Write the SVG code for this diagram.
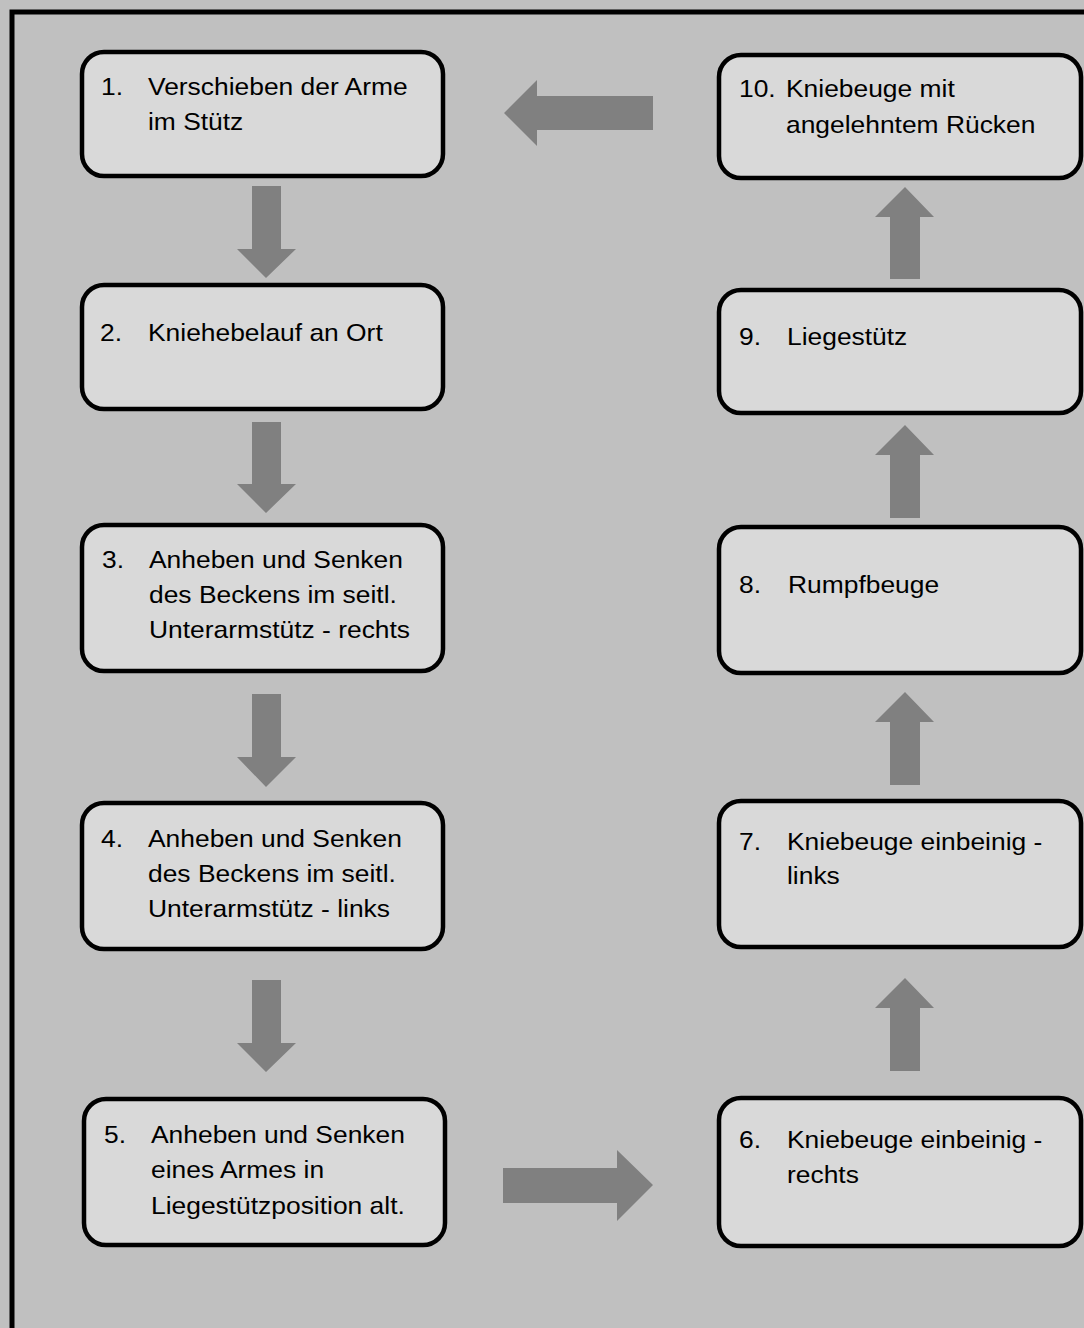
<svg xmlns="http://www.w3.org/2000/svg" width="1084" height="1328" viewBox="0 0 1084 1328">
<style>
.box{fill:#d9d9d9;stroke:#000;stroke-width:4.5}
.arr{fill:#808080}
text{font-family:"Liberation Sans",Arial,sans-serif;font-size:24px;fill:#000}
</style>
<rect x="0" y="0" width="1084" height="1328" fill="#c0c0c0"/>
<rect x="12" y="12" width="1100" height="1400" fill="#c0c0c0" stroke="#000" stroke-width="5"/>
<g id="connectors">
<polygon class="arr" points="252,186 281,186 281,249 296,249 266,278 237,249 252,249"/>
<polygon class="arr" points="252,422 281,422 281,484 296,484 266,513 237,484 252,484"/>
<polygon class="arr" points="252,694 281,694 281,757 296,757 266,787 237,757 252,757"/>
<polygon class="arr" points="252,980 281,980 281,1043 296,1043 266,1072 237,1043 252,1043"/>
<polygon class="arr" points="503,1168 617,1168 617,1150 653,1185 617,1221 617,1203 503,1203"/>
<polygon class="arr" points="890,1071 920,1071 920,1008 934,1008 905,978 875,1008 890,1008"/>
<polygon class="arr" points="890,785 920,785 920,722 934,722 905,692 875,722 890,722"/>
<polygon class="arr" points="890,518 920,518 920,455 934,455 905,425 875,455 890,455"/>
<polygon class="arr" points="890,279 920,279 920,217 934,217 905,187 875,217 890,217"/>
<polygon class="arr" points="653,96 653,130 537,130 537,146 504,113 537,80 537,96"/>
</g>
<g id="node1">
<rect class="box" x="82" y="52" width="361" height="124" rx="22"/>
<text transform="translate(101,95) scale(1.1,1)">1.</text>
<text transform="translate(148,95) scale(1.1,1)"><tspan x="0" y="0">Verschieben der Arme</tspan><tspan x="0" y="35">im Stütz</tspan></text>
</g>
<g id="node2">
<rect class="box" x="82" y="285" width="361" height="124" rx="22"/>
<text transform="translate(100,341) scale(1.1,1)">2.</text>
<text transform="translate(148,341) scale(1.1,1)">Kniehebelauf an Ort</text>
</g>
<g id="node3">
<rect class="box" x="82" y="525" width="361" height="146" rx="22"/>
<text transform="translate(102,568) scale(1.1,1)">3.</text>
<text transform="translate(149,568) scale(1.1,1)"><tspan x="0" y="0">Anheben und Senken</tspan><tspan x="0" y="35">des Beckens im seitl.</tspan><tspan x="0" y="70">Unterarmstütz - rechts</tspan></text>
</g>
<g id="node4">
<rect class="box" x="82" y="803" width="361" height="146" rx="22"/>
<text transform="translate(101,847) scale(1.1,1)">4.</text>
<text transform="translate(148,847) scale(1.1,1)"><tspan x="0" y="0">Anheben und Senken</tspan><tspan x="0" y="35">des Beckens im seitl.</tspan><tspan x="0" y="70">Unterarmstütz - links</tspan></text>
</g>
<g id="node5">
<rect class="box" x="84" y="1099" width="361" height="146" rx="22"/>
<text transform="translate(104,1143) scale(1.1,1)">5.</text>
<text transform="translate(151,1143) scale(1.1,1)"><tspan x="0" y="0">Anheben und Senken</tspan><tspan x="0" y="35">eines Armes in</tspan><tspan x="0" y="71">Liegestützposition alt.</tspan></text>
</g>
<g id="node6">
<rect class="box" x="719" y="1098" width="362" height="148" rx="22"/>
<text transform="translate(739,1148) scale(1.1,1)">6.</text>
<text transform="translate(787,1148) scale(1.1,1)"><tspan x="0" y="0">Kniebeuge einbeinig -</tspan><tspan x="0" y="35">rechts</tspan></text>
</g>
<g id="node7">
<rect class="box" x="719" y="801" width="362" height="146" rx="22"/>
<text transform="translate(739,850) scale(1.1,1)">7.</text>
<text transform="translate(787,850) scale(1.1,1)"><tspan x="0" y="0">Kniebeuge einbeinig -</tspan><tspan x="0" y="34">links</tspan></text>
</g>
<g id="node8">
<rect class="box" x="719" y="527" width="362" height="146" rx="22"/>
<text transform="translate(739,593) scale(1.1,1)">8.</text>
<text transform="translate(788,593) scale(1.1,1)">Rumpfbeuge</text>
</g>
<g id="node9">
<rect class="box" x="719" y="290" width="362" height="123" rx="22"/>
<text transform="translate(739,345) scale(1.1,1)">9.</text>
<text transform="translate(787,345) scale(1.1,1)">Liegestütz</text>
</g>
<g id="node10">
<rect class="box" x="719" y="55" width="362" height="123" rx="22"/>
<text transform="translate(739,97) scale(1.1,1)">10.</text>
<text transform="translate(786,97) scale(1.1,1)"><tspan x="0" y="0">Kniebeuge mit</tspan><tspan x="0" y="36">angelehntem Rücken</tspan></text>
</g>
</svg>
